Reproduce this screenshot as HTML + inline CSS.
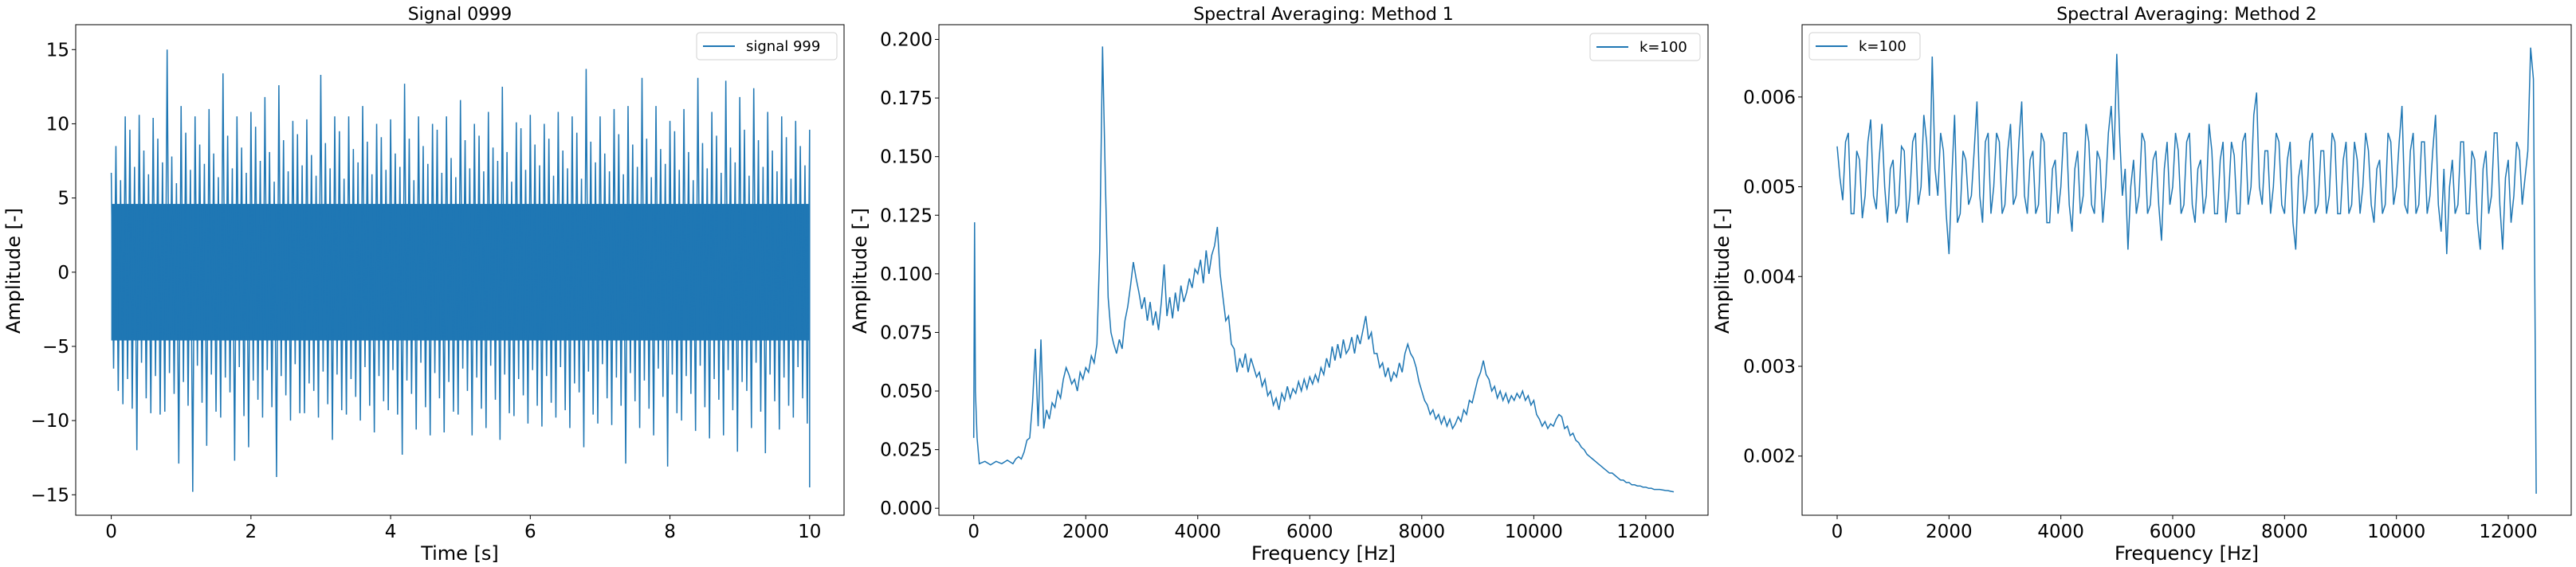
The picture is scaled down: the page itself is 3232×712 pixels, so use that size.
<!DOCTYPE html>
<html><head><meta charset="utf-8">
<style>
html,body{margin:0;padding:0;background:#fff;}
svg{display:block;font-family:"DejaVu Sans","Liberation Sans",sans-serif;}
</style></head>
<body>
<svg id="fig" width="3232" height="712" viewBox="0 0 3232 712" xmlns="http://www.w3.org/2000/svg"></svg>
<script>
// ---------- Panel 1 data: signal envelope (time bins, 0.2 s) ----------
const sigTime = [0,0.2,0.4,0.6,0.8,1.0,1.2,1.4,1.6,1.8,2.0,2.2,2.4,2.6,2.8,3.0,3.2,3.4,3.6,3.8,4.0,4.2,4.4,4.6,4.8,5.0,5.2,5.4,5.6,5.8,6.0,6.2,6.4,6.6,6.8,7.0,7.2,7.4,7.6,7.8,8.0,8.2,8.4,8.6,8.8,9.0,9.2,9.4,9.6,9.8,10.0];
const sigTop = [6.7,10.5,10.6,10.4,15.0,11.2,10.5,11.0,13.4,10.5,10.8,11.8,12.6,10.2,10.3,13.3,10.5,10.5,11.2,10.0,10.3,12.7,10.5,10.0,10.5,11.6,10.0,10.8,12.5,10.1,10.6,10.0,10.8,10.5,13.7,10.5,11.0,11.2,13.1,11.2,10.2,11.0,13.1,10.8,12.9,11.8,12.4,10.8,10.5,10.2,9.6];
const sigBot = [-8.9,-12.0,-9.5,-9.4,-12.9,-14.8,-11.7,-9.8,-12.7,-11.8,-9.8,-13.8,-10.0,-9.5,-9.8,-11.3,-9.6,-10.0,-10.8,-9.3,-12.3,-10.6,-11.0,-10.8,-9.6,-11.0,-10.5,-11.3,-9.7,-10.2,-10.4,-9.8,-10.5,-11.8,-10.2,-10.3,-12.9,-10.5,-11.0,-13.1,-10.0,-10.7,-11.2,-11.0,-12.1,-10.5,-12.2,-10.6,-9.8,-10.2,-14.5];
const sigTop2 = [8.5,9.6,8.2,9.0,7.8,9.4,8.6,8.0,9.2,8.4,9.8,8.1,8.9,9.3,7.9,8.7,9.5,8.3,8.8,9.1,8.0,9.0,8.5,9.6,7.7,8.9,9.2,8.4,8.1,9.7,8.6,9.0,8.2,9.4,8.8,8.0,9.3,8.6,9.0,8.3,9.5,8.1,8.7,9.2,8.4,9.6,8.9,8.2,9.1,8.5,9.6];
const sigBot2 = [-8.0,-9.2,-8.5,-9.6,-8.2,-9.0,-8.8,-9.4,-8.1,-9.7,-8.6,-9.1,-8.3,-9.5,-8.0,-8.9,-9.3,-8.4,-9.0,-8.7,-9.6,-8.2,-9.1,-8.5,-9.4,-8.0,-9.2,-8.6,-9.5,-8.3,-9.0,-8.8,-9.3,-8.1,-9.6,-8.5,-9.0,-8.7,-9.2,-8.4,-9.5,-8.2,-9.1,-8.6,-9.3,-8.0,-9.4,-8.7,-9.0,-8.5,-9.2];
const sigTop3 = [6.2,7.1,6.6,7.4,6.0,6.9,7.3,6.4,7.0,6.7,7.5,6.1,6.8,7.2,6.5,7.0,6.3,7.4,6.6,6.9,7.1,6.2,7.3,6.7,6.4,7.0,6.8,7.5,6.1,6.9,7.2,6.5,7.0,6.3,7.4,6.8,6.6,7.1,6.4,7.3,6.9,6.2,7.0,6.7,7.4,6.5,7.1,6.8,6.3,7.2,6.6];
const sigBot3 = [-6.5,-7.2,-6.1,-7.0,-6.8,-7.4,-6.3,-6.9,-7.1,-6.4,-7.3,-6.6,-7.0,-6.2,-7.5,-6.7,-6.9,-7.2,-6.4,-7.0,-6.6,-7.3,-6.1,-6.8,-7.4,-6.5,-7.1,-6.3,-6.9,-7.2,-6.6,-7.0,-6.4,-7.5,-6.7,-6.2,-7.1,-6.8,-7.3,-6.5,-6.9,-7.0,-6.3,-7.2,-6.6,-7.4,-6.1,-6.9,-7.1,-6.4,-7.0];
const sigCore = 4.6;
const p1XTicks = [0,2,4,6,8,10];
const p1YTicks = [-15,-10,-5,0,5,10,15];

// ---------- Panel 2 data: Method 1 spectrum ----------
const m1FreqLow = [0,15,30,60,100,200,300,400,500,600,700,750];
const m1AmpLow = [0.03,0.122,0.05,0.03,0.019,0.020,0.0185,0.020,0.019,0.0205,0.019,0.021];
const m1FreqStart = 800, m1FreqStep = 50;
const m1Amp = [0.022,0.021,0.024,0.029,0.030,0.045,0.068,0.035,0.072,0.034,0.042,0.038,0.045,0.043,0.050,0.047,0.055,0.060,0.057,0.053,0.055,0.050,0.058,0.055,0.060,0.058,0.065,0.062,0.070,0.110,0.197,0.140,0.090,0.075,0.070,0.066,0.072,0.068,0.080,0.086,0.095,0.105,0.098,0.092,0.085,0.090,0.080,0.088,0.078,0.084,0.076,0.088,0.104,0.082,0.090,0.081,0.092,0.084,0.095,0.088,0.092,0.098,0.094,0.102,0.100,0.106,0.096,0.110,0.100,0.108,0.112,0.120,0.100,0.090,0.080,0.082,0.070,0.068,0.058,0.064,0.060,0.066,0.058,0.064,0.060,0.056,0.058,0.052,0.055,0.048,0.050,0.044,0.047,0.042,0.049,0.046,0.052,0.047,0.051,0.049,0.054,0.050,0.055,0.051,0.056,0.053,0.057,0.054,0.060,0.057,0.064,0.060,0.069,0.063,0.070,0.064,0.072,0.066,0.068,0.073,0.066,0.074,0.070,0.076,0.082,0.072,0.075,0.066,0.066,0.060,0.062,0.056,0.060,0.054,0.058,0.056,0.062,0.058,0.066,0.070,0.066,0.064,0.060,0.054,0.050,0.046,0.044,0.040,0.042,0.038,0.040,0.036,0.039,0.035,0.038,0.034,0.036,0.039,0.037,0.042,0.040,0.046,0.045,0.050,0.055,0.058,0.063,0.057,0.055,0.050,0.052,0.047,0.050,0.046,0.049,0.045,0.048,0.046,0.049,0.047,0.050,0.046,0.048,0.044,0.046,0.040,0.038,0.035,0.037,0.034,0.036,0.035,0.038,0.040,0.039,0.034,0.035,0.031,0.032,0.029,0.028,0.026,0.025,0.023,0.022,0.021,0.020,0.019,0.018,0.017,0.016,0.015,0.015,0.014,0.013,0.012,0.012,0.011,0.011,0.010,0.010,0.0095,0.0095,0.009,0.009,0.0085,0.0085,0.008,0.008,0.008,0.0078,0.0076,0.0075,0.0072,0.007];
const p2XTicks = [0,2000,4000,6000,8000,10000,12000];
const p2YTicks = [0,0.025,0.05,0.075,0.1,0.125,0.15,0.175,0.2];

// ---------- Panel 3 data: Method 2 spectrum (amplitude in 1e-3 units, 50 Hz bins) ----------
const m2FreqStep = 50;
const m2Amp = [5.45,5.1,4.85,5.5,5.6,4.7,4.7,5.4,5.3,4.65,4.9,5.5,5.75,4.9,4.75,5.3,5.7,5.0,4.6,5.2,5.3,4.7,4.8,5.45,5.4,4.6,4.9,5.5,5.6,4.8,5.0,5.8,5.5,4.9,6.45,5.2,4.9,5.6,5.4,4.7,4.25,5.1,5.8,4.6,4.7,5.4,5.3,4.8,4.9,5.4,5.95,4.9,4.6,5.5,5.6,4.7,5.0,5.6,5.5,4.7,4.8,5.4,5.7,4.8,4.9,5.5,5.95,4.9,4.7,5.3,5.4,4.7,4.8,5.6,5.5,4.6,4.6,5.2,5.3,4.7,5.0,5.6,5.6,4.8,4.5,5.2,5.4,4.7,4.9,5.7,5.5,4.8,4.7,5.4,5.3,4.6,5.0,5.6,5.9,5.3,6.48,5.6,4.9,5.2,4.3,5.0,5.3,4.7,4.9,5.6,5.5,4.7,4.8,5.3,5.4,4.8,4.4,5.2,5.5,4.8,5.0,5.6,5.4,4.7,4.8,5.5,5.6,4.8,4.6,5.2,5.3,4.7,4.9,5.7,5.4,4.7,4.7,5.3,5.5,4.6,4.9,5.5,5.35,4.7,4.7,5.5,5.6,4.8,5.0,5.8,6.05,5.0,4.8,5.4,5.4,4.7,5.0,5.6,5.5,4.8,4.7,5.3,5.5,4.6,4.3,5.1,5.3,4.7,4.9,5.5,5.6,4.7,4.8,5.4,5.4,4.7,4.9,5.6,5.5,4.7,4.7,5.3,5.5,4.7,4.8,5.5,5.3,4.7,5.0,5.6,5.4,4.8,4.6,5.2,5.3,4.7,4.8,5.6,5.5,4.8,5.0,5.5,5.9,4.8,4.7,5.4,5.6,4.7,4.8,5.5,5.5,4.7,4.9,5.4,5.8,4.8,4.5,5.2,4.25,5.0,5.3,4.7,4.8,5.5,5.5,4.7,4.7,5.4,5.3,4.6,4.3,5.2,5.4,4.7,4.9,5.6,5.6,4.8,4.3,5.1,5.3,4.6,4.9,5.5,5.4,4.8,5.1,5.4,6.55,6.2,1.58];
const p3XTicks = [0,2000,4000,6000,8000,10000,12000];
const p3YTicks = [2,3,4,5,6];

const NS = "http://www.w3.org/2000/svg";
const svg = document.getElementById('fig');
const BLUE = "#1f77b4";
function mk(tag, attrs, parent){ const e=document.createElementNS(NS,tag); for(const k in attrs) e.setAttribute(k,attrs[k]); (parent||svg).appendChild(e); return e; }
function lin(d0,d1,r0,r1){ return v => r0 + (v-d0)*(r1-r0)/(d1-d0); }

function axesFrame(g, L,R,T,B){
  const r = mk('rect',{x:L,y:T,width:R-L,height:B-T,fill:'none',stroke:'#000','stroke-width':1},g);
  
  
}
function ticks(g, xs, xfun, xfmt, ys, yfun, yfmt, L, B){
  const gx = mk('g',{},g);
  
  
  xs.forEach(v=>{
    const x=xfun(v);
    mk('line',{x1:x,x2:x,y1:B,y2:B+5,stroke:'#000','stroke-width':1},gx);
    const t=mk('text',{x:x,y:B+28,'font-size':23,'text-anchor':'middle'},gx);
    t.textContent=xfmt(v);
    
    
  });
  const gy = mk('g',{},g);
  
  
  ys.forEach(v=>{
    const y=yfun(v);
    mk('line',{x1:L-5,x2:L,y1:y,y2:y,stroke:'#000','stroke-width':1},gy);
    const t=mk('text',{x:L-8,y:y+8,'font-size':23,'text-anchor':'end'},gy);
    t.textContent=yfmt(v);
    
    
  });
}
function labels(g, title, tx, xl, yl, ylx){
  const t=mk('text',{x:tx,y:25,'font-size':22,'text-anchor':'middle'},g); t.textContent=title;
  
  
  const x=mk('text',{x:tx,y:703,'font-size':24,'text-anchor':'middle'},g); x.textContent=xl;
  
  
  const y=mk('text',{x:ylx,y:340,'font-size':24,'text-anchor':'middle',transform:`rotate(-90 ${ylx} 340)`},g); y.textContent=yl;
  
  
}
function legend(g, x, y, w, label){
  const lg=mk('g',{},g);
  
  
  mk('rect',{x:x,y:y,width:w,height:34,rx:4,fill:'#fff','fill-opacity':0.8,stroke:'#d0d0d0','stroke-width':1},lg);
  mk('line',{x1:x+8,x2:x+48,y1:y+17,y2:y+17,stroke:BLUE,'stroke-width':2},lg);
  const t=mk('text',{x:x+62,y:y+23,'font-size':18},lg); t.textContent=label;
  
  
}
const fmtPlain = v => String(v);
const fmtNeg = v => (v<0?'\u2212'+Math.abs(v):String(v));

// ---------- Panel 1 ----------
(function(){
  const L=95,R=1059,T=31,B=647;
  const g=mk('g',{});  
  const x=lin(0,10,139.6,1015.8), y=lin(0,15,341.8,62.3);
  const core=mk('rect',{x:x(0),y:y(sigCore),width:x(10)-x(0),height:y(-sigCore)-y(sigCore),fill:BLUE},g);
   
  let pts=[];
  for(let i=0;i<sigTime.length;i++){
    const t0=sigTime[i];
    const seq=[sigTop[i],sigBot3[i],sigTop2[i],sigBot2[i],sigTop3[i],sigBot[i]];
    seq.forEach((v,k)=>{ pts.push([x(Math.min(t0+k*0.2/6,10)),y(v)]); });
  }
  const pl=mk('polyline',{points:pts.map(p=>p.join(',')).join(' '),fill:'none',stroke:BLUE,'stroke-width':1.5},g);
   
  axesFrame(g,L,R,T,B);
  ticks(g,p1XTicks,x,fmtPlain,p1YTicks,y,fmtNeg,L,B);
  labels(g,'Signal 0999',(L+R)/2,'Time [s]','Amplitude [-]',25);
  legend(g,874,41,176,'signal 999');
})();

// ---------- Panel 2 ----------
(function(){
  const L=1178,R=2143,T=31,B=647;
  const g=mk('g',{});  
  const x=lin(0,12000,1221.7,2064.9), y=lin(0,0.2,638.2,49.5);
  const pts=[];
  m1FreqLow.forEach((f,i)=>pts.push(x(f)+','+y(m1AmpLow[i])));
  m1Amp.forEach((a,i)=>pts.push(x(m1FreqStart+i*m1FreqStep)+','+y(a)));
  const pl=mk('polyline',{points:pts.join(' '),fill:'none',stroke:BLUE,'stroke-width':1.5},g);
   
  axesFrame(g,L,R,T,B);
  ticks(g,p2XTicks,x,fmtPlain,p2YTicks,y,v=>v.toFixed(3),L,B);
  labels(g,'Spectral Averaging: Method 1',(L+R)/2,'Frequency [Hz]','Amplitude [-]',1087);
  legend(g,1995,42,138,'k=100');
})();

// ---------- Panel 3 ----------
(function(){
  const L=2261,R=3226,T=31,B=647;
  const g=mk('g',{});  
  const x=lin(0,12000,2305,3147), y=lin(6,2,121.8,572.7);
  const pts=m2Amp.map((a,i)=>x(i*m2FreqStep)+','+y(a)).join(' ');
  const pl=mk('polyline',{points:pts,fill:'none',stroke:BLUE,'stroke-width':1.5},g);
   
  axesFrame(g,L,R,T,B);
  ticks(g,p3XTicks,x,fmtPlain,p3YTicks,y,v=>(v/1000).toFixed(3),L,B);
  labels(g,'Spectral Averaging: Method 2',(L+R)/2,'Frequency [Hz]','Amplitude [-]',2169);
  legend(g,2270,41,139,'k=100');
})();
</script>
</body></html>
